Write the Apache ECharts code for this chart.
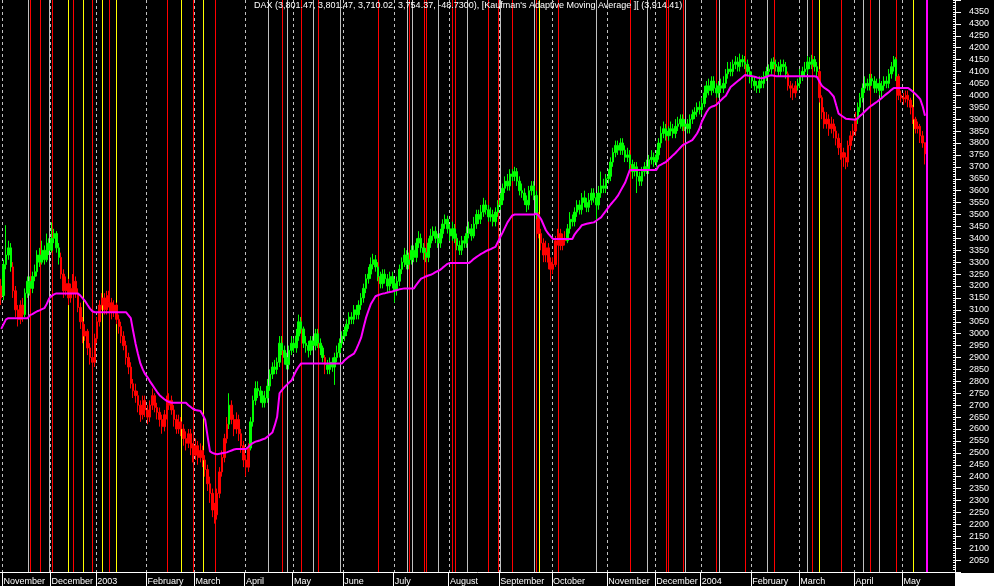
<!DOCTYPE html>
<html><head><meta charset="utf-8">
<script src="https://cdn.jsdelivr.net/npm/echarts@6/dist/echarts.min.js"></script>
<style>html,body{margin:0;padding:0;background:#000;}#c{width:994px;height:586px;}</style>
</head><body><div id="c"></div>
<script>
const opens=[
3200,3160,3290,3330,3360,3280,3180,3100,3060,3120,
3080,3170,3220,3190,3240,3260,3330,3300,3350,3310,
3380,3350,3400,3420,3360,3320,3250,3180,3210,3150,
3190,3220,3170,3110,3050,2990,3010,2940,2900,2880,
2980,3050,3120,3150,3100,3160,3130,3090,3120,3060,
3030,2990,2950,2900,2860,2790,2760,2740,2700,2660,
2720,2680,2650,2700,2740,2690,2670,2640,2610,2660,
2700,2720,2680,2640,2600,2630,2600,2560,2540,2580,
2520,2490,2530,2480,2510,2470,2430,2370,2330,2260,
2240,2330,2420,2480,2560,2620,2700,2640,2600,2640,
2580,2530,2470,2440,2520,2630,2720,2770,2760,2740,
2710,2730,2780,2830,2860,2850,2880,2960,2930,2900,
2870,2930,2960,2940,2990,3050,3020,2960,2950,2930,
2970,2950,3000,2960,2940,2900,2870,2850,2880,2860,
2900,2920,2960,2990,3010,3040,3070,3060,3100,3080,
3120,3150,3190,3230,3250,3290,3310,3280,3240,3210,
3250,3230,3200,3240,3210,3180,3220,3270,3300,3330,
3290,3310,3350,3320,3380,3400,3360,3340,3320,3380,
3410,3430,3400,3380,3420,3460,3480,3440,3410,3440,
3400,3370,3350,3390,3380,3420,3440,3410,3460,3500,
3480,3510,3540,3520,3490,3500,3470,3510,3540,3560,
3610,3640,3620,3670,3660,3680,3640,3600,3590,3560,
3540,3600,3620,3580,3500,3420,3380,3330,3360,3300,
3270,3290,3390,3420,3370,3400,3390,3440,3480,3470,
3510,3540,3520,3570,3550,3530,3560,3590,3570,3540,
3590,3620,3610,3650,3660,3720,3760,3790,3770,3800,
3770,3740,3750,3710,3680,3700,3660,3640,3680,3700,
3690,3730,3740,3720,3750,3800,3840,3860,3830,3850,
3860,3840,3870,3880,3900,3870,3880,3860,3900,3920,
3930,3950,3940,3965,4010,4040,4020,4060,4030,4010,
4040,4030,4050,4090,4110,4100,4130,4140,4120,4150,
4140,4130,4100,4080,4060,4040,4030,4060,4050,4080,
4100,4110,4140,4130,4120,4100,4130,4120,4090,4040,
4030,4010,4040,4050,4080,4100,4110,4140,4130,4150,
4120,4100,3990,3930,3880,3900,3860,3880,3850,3820,
3780,3760,3740,3720,3790,3830,3850,3900,3950,3990,
4030,4050,4040,4070,4060,4030,4050,4020,4040,4060,
4050,4090,4120,4150,4080,4000,3990,3985,4000,3980,
3950,3900,3860,3870,3830,3801.47];
const closes=[
3150,3290,3330,3360,3280,3180,3100,3060,3120,3080,
3170,3220,3190,3240,3260,3330,3300,3350,3310,3380,
3350,3400,3420,3360,3320,3250,3180,3210,3150,3190,
3220,3170,3110,3050,2990,3010,2940,2900,2880,2980,
3050,3120,3150,3100,3160,3130,3090,3120,3060,3030,
2990,2950,2900,2860,2790,2760,2740,2700,2660,2720,
2680,2650,2700,2740,2690,2670,2640,2610,2660,2700,
2720,2680,2640,2600,2630,2600,2560,2540,2580,2520,
2490,2530,2480,2510,2470,2430,2370,2330,2260,2240,
2330,2420,2480,2560,2620,2700,2640,2600,2640,2580,
2530,2470,2440,2520,2630,2720,2770,2760,2740,2710,
2730,2780,2830,2860,2850,2880,2960,2930,2900,2870,
2930,2960,2940,2990,3050,3020,2960,2950,2930,2970,
2950,3000,2960,2940,2900,2870,2850,2880,2860,2900,
2920,2960,2990,3010,3040,3070,3060,3100,3080,3120,
3150,3190,3230,3250,3290,3310,3280,3240,3210,3250,
3230,3200,3240,3210,3180,3220,3270,3300,3330,3290,
3310,3350,3320,3380,3400,3360,3340,3320,3380,3410,
3430,3400,3380,3420,3460,3480,3440,3410,3440,3400,
3370,3350,3390,3380,3420,3440,3410,3460,3500,3480,
3510,3540,3520,3490,3500,3470,3510,3540,3560,3610,
3640,3620,3670,3660,3680,3640,3600,3590,3560,3540,
3600,3620,3580,3500,3420,3380,3330,3360,3300,3270,
3290,3390,3420,3370,3400,3390,3440,3480,3470,3510,
3540,3520,3570,3550,3530,3560,3590,3570,3540,3590,
3620,3610,3650,3660,3720,3760,3790,3770,3800,3770,
3740,3750,3710,3680,3700,3660,3640,3680,3700,3690,
3730,3740,3720,3750,3800,3840,3860,3830,3850,3860,
3840,3870,3880,3900,3870,3880,3860,3900,3920,3930,
3950,3940,3965,4010,4040,4020,4060,4030,4010,4040,
4030,4050,4090,4110,4100,4130,4140,4120,4150,4140,
4130,4100,4080,4060,4040,4030,4060,4050,4080,4100,
4110,4140,4130,4120,4100,4130,4120,4090,4040,4030,
4010,4040,4050,4080,4100,4110,4140,4130,4150,4120,
4100,3990,3930,3880,3900,3860,3880,3850,3820,3780,
3760,3740,3720,3790,3830,3850,3900,3950,3990,4030,
4050,4040,4070,4060,4030,4050,4020,4040,4060,4050,
4090,4120,4150,4080,4000,3990,3985,4000,3980,3950,
3900,3860,3870,3830,3800,3754.37];
const highs=[
3230,3310,3455,3390,3380,3300,3200,3120,3140,3150,
3190,3240,3240,3260,3290,3350,3360,3390,3370,3420,
3400,3467,3440,3430,3380,3340,3270,3240,3230,3210,
3250,3240,3190,3130,3070,3040,3020,2960,2920,3000,
3070,3140,3170,3170,3180,3180,3150,3140,3130,3080,
3050,3010,2970,2920,2880,2810,2790,2760,2720,2740,
2740,2700,2720,2770,2750,2710,2690,2660,2680,2740,
2750,2740,2700,2660,2660,2650,2620,2590,2600,2600,
2540,2560,2550,2540,2530,2490,2450,2400,2350,2290,
2350,2440,2510,2580,2650,2750,2720,2660,2670,2660,
2600,2550,2490,2540,2650,2740,2800,2800,2780,2760,
2760,2810,2850,2880,2890,2900,2990,2990,2950,2920,
2950,2990,2980,3020,3080,3070,3030,2990,2970,2990,
2990,3020,3020,2980,2950,2910,2890,2900,2900,2920,
2950,2980,3010,3030,3060,3090,3090,3120,3120,3140,
3170,3210,3250,3280,3320,3335,3330,3300,3260,3270,
3270,3250,3260,3260,3230,3240,3290,3320,3360,3350,
3340,3370,3370,3400,3430,3420,3380,3360,3400,3440,
3450,3450,3420,3440,3480,3500,3495,3460,3470,3460,
3420,3390,3410,3410,3450,3470,3460,3490,3520,3520,
3540,3570,3560,3540,3530,3520,3530,3560,3590,3630,
3660,3670,3690,3690,3700,3695,3660,3630,3610,3580,
3620,3640,3640,3600,3510,3440,3400,3390,3380,3320,
3320,3410,3440,3440,3420,3430,3460,3510,3500,3530,
3560,3560,3590,3600,3570,3590,3610,3610,3590,3620,
3680,3650,3670,3690,3740,3780,3810,3810,3820,3820,
3790,3780,3770,3730,3720,3720,3680,3700,3720,3730,
3750,3770,3760,3770,3820,3870,3890,3880,3870,3890,
3880,3900,3910,3920,3920,3900,3900,3920,3940,3950,
3970,3975,3990,4040,4060,4070,4080,4080,4050,4060,
4070,4080,4110,4140,4140,4150,4165,4160,4175,4170,
4165,4150,4120,4100,4080,4060,4080,4080,4100,4120,
4130,4155,4160,4150,4140,4150,4150,4140,4100,4060,
4050,4060,4070,4110,4120,4140,4165,4160,4170,4165,
4140,4110,4000,3950,3930,3920,3910,3900,3870,3840,
3800,3780,3760,3810,3850,3880,3930,3970,4010,4050,
4080,4070,4090,4090,4080,4070,4070,4060,4080,4080,
4110,4140,4165,4160,4090,4020,4010,4020,4020,3990,
3960,3910,3890,3880,3850,3801.47];
const lows=[
3120,3140,3270,3310,3260,3150,3070,3030,3040,3050,
3070,3150,3160,3170,3220,3240,3280,3290,3290,3300,
3330,3340,3380,3340,3290,3230,3150,3160,3120,3130,
3170,3150,3090,3020,2960,2970,2910,2870,2850,2860,
2960,3030,3100,3080,3080,3110,3060,3070,3040,3000,
2960,2930,2870,2830,2770,2730,2710,2670,2630,2640,
2650,2620,2630,2680,2670,2640,2610,2580,2590,2640,
2680,2660,2610,2580,2580,2570,2530,2510,2520,2490,
2460,2470,2450,2460,2440,2400,2340,2290,2230,2203,
2220,2310,2400,2460,2540,2600,2620,2570,2580,2550,
2500,2440,2400,2420,2510,2610,2700,2730,2710,2690,
2690,2710,2760,2810,2830,2830,2860,2910,2870,2850,
2850,2910,2920,2920,2970,3000,2940,2920,2900,2910,
2930,2930,2940,2910,2880,2830,2830,2830,2840,2785,
2880,2900,2940,2970,2990,3020,3040,3040,3060,3060,
3100,3130,3170,3210,3230,3270,3260,3220,3190,3190,
3210,3170,3180,3190,3130,3160,3200,3250,3280,3270,
3270,3290,3300,3300,3360,3340,3310,3300,3300,3360,
3390,3380,3360,3360,3400,3440,3420,3390,3390,3380,
3350,3330,3330,3360,3360,3400,3390,3400,3440,3460,
3460,3490,3500,3470,3470,3450,3450,3490,3520,3540,
3590,3600,3600,3640,3640,3620,3580,3570,3540,3510,
3520,3580,3560,3480,3400,3350,3300,3300,3270,3219,
3250,3280,3370,3350,3350,3370,3380,3420,3450,3450,
3490,3500,3500,3530,3510,3510,3540,3550,3470,3520,
3570,3590,3590,3630,3640,3700,3740,3750,3750,3750,
3720,3720,3690,3650,3660,3590,3620,3620,3660,3670,
3670,3710,3700,3700,3730,3780,3820,3810,3810,3830,
3820,3820,3850,3860,3850,3850,3840,3840,3880,3900,
3910,3920,3920,3950,3990,4000,4000,4010,3990,3990,
4010,4010,4030,4070,4080,4080,4110,4100,4100,4120,
4110,4080,4050,4030,4020,4010,4010,4030,4030,4060,
4080,4090,4110,4100,4080,4080,4100,4070,4020,3990,
3980,3990,4020,4030,4060,4080,4090,4110,4110,4100,
4080,3970,3900,3860,3860,3830,3840,3820,3790,3750,
3730,3700,3690,3700,3770,3810,3830,3880,3930,3970,
4010,4020,4020,4040,4010,4010,4000,3990,4020,4030,
4030,4070,4100,4060,3980,3970,3960,3970,3950,3920,
3880,3840,3840,3800,3780,3710.02];
const kama=[
3020,3040,3060,3065,3065,3065,3065,3065,3065,3065,
3065,3065,3078,3082,3088,3094,3098,3103,3107,3125,
3148,3158,3165,3169,3169,3169,3169,3169,3169,3169,
3169,3169,3169,3160,3148,3136,3120,3105,3094,3090,
3090,3090,3090,3090,3090,3090,3090,3090,3090,3090,
3090,3090,3090,3078,3065,3010,2958,2915,2875,2850,
2830,2817,2800,2785,2770,2755,2742,2733,2725,2718,
2713,2710,2710,2710,2710,2710,2710,2710,2700,2692,
2684,2680,2678,2676,2660,2639,2570,2506,2500,2496,
2494,2496,2498,2500,2502,2506,2510,2514,2516,2516,
2516,2516,2516,2525,2535,2542,2547,2550,2553,2557,
2560,2568,2577,2585,2615,2651,2750,2763,2775,2785,
2795,2804,2825,2846,2862,2875,2875,2875,2875,2875,
2875,2875,2875,2875,2875,2875,2875,2875,2875,2875,
2875,2875,2875,2887,2896,2904,2910,2916,2935,2958,
2983,3025,3065,3095,3123,3140,3157,3161,3165,3168,
3170,3173,3175,3177,3180,3183,3186,3188,3190,3190,
3190,3190,3190,3205,3218,3231,3235,3240,3244,3247,
3252,3258,3263,3268,3277,3285,3293,3297,3297,3297,
3297,3297,3297,3297,3297,3297,3305,3314,3321,3328,
3335,3340,3346,3351,3355,3360,3364,3385,3405,3425,
3446,3467,3482,3496,3500,3500,3500,3500,3500,3500,
3500,3500,3500,3504,3495,3480,3457,3434,3420,3408,
3397,3397,3397,3397,3397,3397,3397,3397,3397,3417,
3430,3442,3455,3458,3461,3463,3465,3467,3474,3481,
3488,3502,3515,3529,3542,3554,3566,3579,3597,3615,
3633,3660,3687,3687,3687,3687,3687,3687,3687,3687,
3687,3687,3687,3687,3704,3709,3715,3720,3730,3739,
3749,3758,3769,3780,3791,3796,3802,3807,3812,3826,
3840,3860,3890,3910,3930,3945,3952,3955,3960,3970,
3980,3990,3998,4017,4035,4043,4052,4060,4068,4077,
4085,4083,4082,4080,4078,4075,4073,4072,4074,4078,
4082,4084,4082,4080,4080,4080,4080,4080,4080,4080,
4080,4080,4080,4080,4080,4080,4080,4080,4080,4080,
4077,4058,4040,4032,4025,4018,4006,3994,3958,3923,
3916,3909,3902,3901,3900,3899,3898,3905,3914,3923,
3933,3943,3952,3959,3966,3973,3981,3989,3998,4006,
4014,4023,4031,4031,4031,4031,4031,4031,4031,4023,
4015,4006,3995,3984,3955,3914.41];
// trend colour of each candle, as runs: [colour, number of bars]
const trendRuns=[['r',1],['g',4],['r',5],['g',15],['r',70],['g',1],['r',8],['g',31],['r',1],['g',88],['r',12],['g',92],['r',4],['g',9],['r',16],['g',17],['r',12]];
const monthStarts=[1,21,40,61,81,102,122,143,164,187,208,230,253,273,292,313,333,356,376];
const monthNames=['November','December','2003','February','March','April','May','June','July','August','September','October','November','December','2004','February','March','April','May'];
const redLines=[12,16,21,30,38,45,69,80,89,117,125,132,157,170,176,177,188,189,203,207,213,223,232,262,277,278,284,298,310,322,338,350,362,373];
const yellowLines=[28,34,42,48,75,84,224,341,380];
const greyLines=[11,20,111,119,130,141,169,171,182,194,208,222,248,269,285,299,319,336,359,366];
const lastBarLine=[386];
const titleText="DAX (3,801.47, 3,801.47, 3,710.02, 3,754.37, -48.7300), [Kaufman's Adaptive Moving Average ][ (3,914.41)";
const nCats=398;

const cats=[];for(let i=0;i<nCats;i++)cats.push(String(i));
const trend=[];trendRuns.forEach(([c,n])=>{for(let k=0;k<n;k++)trend.push(c);});
const GREEN='#00ff00',RED='#ff0000';
const candles=opens.map((o,i)=>{
  const col=trend[i]==='g'?GREEN:RED;
  return {value:[o,closes[i],lows[i],highs[i]],itemStyle:{color:col,color0:col,borderColor:col,borderColor0:col,borderWidth:1}};
});
const monthMap={};monthStarts.forEach((s,k)=>monthMap[s]=monthNames[k]);
const vlines=[];
monthStarts.forEach(i=>vlines.push([i,4]));
greyLines.forEach(i=>vlines.push([i,2]));
yellowLines.forEach(i=>vlines.push([i,1]));
redLines.forEach(i=>vlines.push([i,0]));
lastBarLine.forEach(i=>vlines.push([i,3]));
const lineColors=['#ff0000','#ffff00','#c0c0c0','#ff00ff','#c0c0c0'];
const chart=echarts.init(document.getElementById('c'),null,{renderer:'canvas'});
chart.setOption({
  animation:false,
  backgroundColor:'#000000',
  textStyle:{fontFamily:'Liberation Sans, Arial, sans-serif'},
  grid:{left:0,right:39,top:-5,bottom:14,containLabel:false},
  xAxis:[{
    type:'category',data:cats,boundaryGap:true,
    axisLine:{show:true,lineStyle:{color:'#ffffff',width:1}},
    axisTick:{show:true,length:14,lineStyle:{color:'#ffffff'},interval:(i)=>monthMap[i]!==undefined},
    axisLabel:{show:true,color:'#ffffff',fontSize:9,margin:5,align:'left',interval:(i)=>monthMap[i]!==undefined,formatter:(v,i)=>monthMap[i]||''},
    splitLine:{show:false}
  }],
  yAxis:[{
    type:'value',position:'right',min:2000,max:4400,interval:50,
    axisLine:{show:true,lineStyle:{color:'#ffffff',width:1}},
    axisTick:{show:true,length:6,lineStyle:{color:'#ffffff'}},
    axisLabel:{color:'#ffffff',fontSize:9,margin:14,formatter:(v)=>(v<=2000||v>=4400)?'':String(v)},
    splitLine:{show:false}
  },{
    type:'value',position:'right',min:2000,max:4400,interval:10,
    axisLine:{show:false},
    axisTick:{show:true,inside:true,length:2,lineStyle:{color:'#ffffff'}},
    axisLabel:{show:false},splitLine:{show:false}
  }],
  series:[{
    type:'custom',z:1,silent:true,data:vlines,clip:false,
    renderItem:(params,api)=>{
      const i=api.value(0),k=api.value(1);
      const cs=params.coordSys;
      const bw=api.size([1,0])[0];
      let x=api.coord([i,3000])[0];
      if(k===4)x-=bw/2;
      const top=Math.max(cs.y,0), bot=cs.y+cs.height;
      if(k===4){
        const xl=Math.round(x)+0.5;
        return {type:'line',shape:{x1:xl,y1:top,x2:xl,y2:bot},style:{stroke:lineColors[k],lineWidth:1,lineDash:[3,3]}};
      }
      const w=(k===3)?2:1;
      return {type:'rect',shape:{x:Math.round(x)-(w===2?1:0),y:top,width:w,height:bot-top},style:{fill:lineColors[k]}};
    }
  },{
    type:'candlestick',z:2,data:candles,barWidth:2,silent:true
  },{
    type:'line',z:3,data:kama,showSymbol:false,silent:true,
    lineStyle:{color:'#ff00ff',width:2},itemStyle:{color:'#ff00ff'}
  }],
  graphic:[
    {type:'text',left:254,top:1,z:20,style:{text:titleText,fill:'#ffffff',font:'9px "Liberation Sans", Arial, sans-serif'}},
    {type:'rect',left:955,top:573,z:20,shape:{width:39,height:13},style:{fill:'#ffffff'}},
    {type:'group',z:20,children:[
      {type:'line',shape:{x1:973.5,y1:575,x2:973.5,y2:581},style:{stroke:'#ff0000',lineWidth:1}},
      {type:'polygon',shape:{points:[[970.5,580],[976.5,580],[973.5,584]]},style:{fill:'#ff0000'}}
    ]}
  ]
});
</script></body></html>
